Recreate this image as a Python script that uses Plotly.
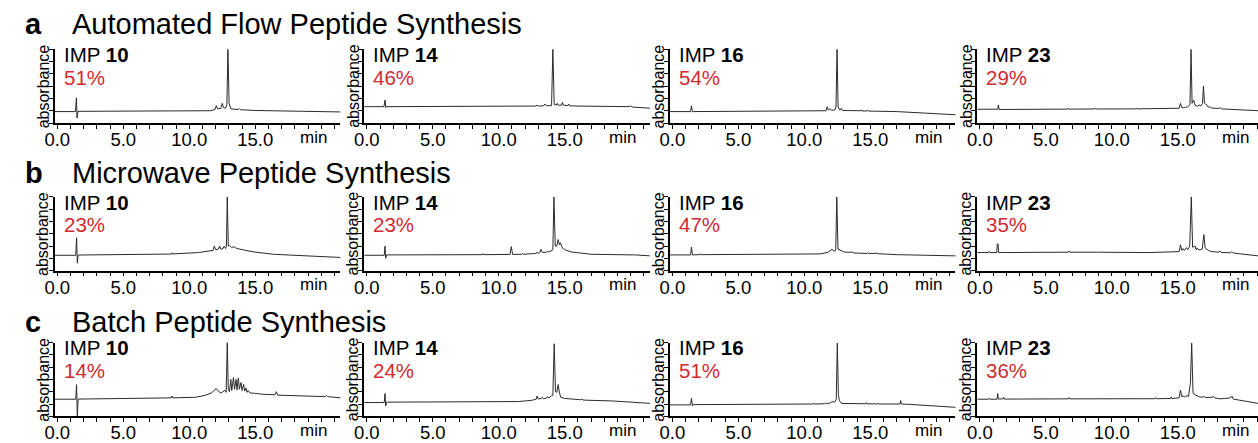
import plotly.graph_objects as go

W, H = 1258, 443

# ---- data -------------------------------------------------------------
methods = ["Automated Flow Peptide Synthesis", "Microwave Peptide Synthesis", "Batch Peptide Synthesis"]
method_letters = ["a", "b", "c"]
compounds = ["10", "14", "16", "23"]
yields = [[51, 46, 54, 29],
          [23, 23, 47, 35],
          [14, 24, 51, 36]]

# chromatograms: (retention time in min, absorbance in arbitrary units)
flow_10 = [(-0.2, 0.93), (1.38, 0.93), (1.45, 2.05), (1.5, 0.4), (1.56, 0.95), (8, 0.95), (11.6, 1.0),
           (11.95, 1.1), (12.05, 1.41), (12.15, 1.15), (12.4, 1.2), (12.5, 1.6), (12.6, 1.25), (12.75, 1.2),
           (12.85, 1.5), (12.93, 6.0), (13.02, 1.6), (13.15, 1.15), (13.7, 1.1), (13.8, 1.18), (13.9, 1.08),
           (15, 1.02), (17, 0.98), (21.5, 0.9)]
flow_14 = [(-0.2, 1.33), (1.3, 1.33), (1.38, 1.87), (1.44, 1.25), (1.5, 1.33), (9, 1.35), (12.8, 1.38),
           (12.9, 1.45), (13.0, 1.38), (13.4, 1.4), (13.5, 1.55), (13.6, 1.4), (14.0, 1.42), (14.1, 6.0),
           (14.2, 1.5), (14.35, 1.45), (14.42, 1.6), (14.5, 1.45), (14.75, 1.45), (14.82, 1.68), (14.9, 1.45),
           (15.25, 1.42), (15.3, 1.55), (15.38, 1.4), (16, 1.38), (19.9, 1.33), (20.0, 1.4), (20.1, 1.3),
           (21.5, 1.2)]
flow_16 = [(-0.2, 0.93), (1.38, 0.93), (1.45, 1.39), (1.52, 0.9), (1.6, 0.93), (8, 0.95), (11.0, 0.98),
           (11.65, 1.0), (11.73, 1.33), (11.82, 1.05), (11.95, 1.15), (12.05, 1.05), (12.3, 1.05), (12.4, 1.3),
           (12.48, 6.0), (12.56, 1.3), (12.7, 1.05), (12.8, 1.2), (12.9, 1.02), (14.25, 1.0), (14.3, 1.07),
           (14.35, 0.98), (14.75, 0.98), (14.8, 1.05), (14.85, 0.97), (17, 0.93), (21.5, 0.67)]
flow_23 = [(-0.2, 1.12), (1.35, 1.12), (1.4, 1.47), (1.46, 1.1), (6.65, 1.13), (6.7, 1.22), (6.75, 1.13),
           (8.65, 1.14), (8.7, 1.22), (8.75, 1.14), (11.85, 1.15), (11.9, 1.22), (11.95, 1.15), (14.5, 1.17),
           (15.1, 1.2), (15.2, 1.6), (15.3, 1.25), (15.55, 1.25), (15.6, 1.32), (15.7, 1.27), (15.8, 1.38),
           (15.92, 1.5), (16.0, 6.0), (16.08, 1.6), (16.2, 1.87), (16.3, 1.45), (16.5, 1.35), (16.6, 1.47),
           (16.75, 1.4), (16.87, 1.6), (16.94, 3.0), (17.02, 1.6), (17.2, 1.47), (17.3, 1.3), (17.45, 1.3),
           (17.55, 1.22), (18.1, 1.18), (18.2, 1.25), (18.3, 1.15), (19, 1.12), (21.5, 0.98)]

mw_10 = [(-0.2, 1.25), (1.4, 1.25), (1.46, 2.67), (1.52, 0.61), (1.58, 1.27), (5, 1.3), (8.65, 1.35),
         (8.7, 1.45), (8.75, 1.36), (10.7, 1.47), (11.5, 1.58), (11.8, 1.65), (11.9, 2.0), (12.0, 1.7),
         (12.2, 1.75), (12.3, 2.0), (12.4, 1.75), (12.55, 1.78), (12.65, 2.0), (12.75, 1.8), (12.82, 2.0),
         (12.88, 6.0), (12.96, 2.0), (13.05, 2.05), (13.2, 1.9), (13.4, 1.93), (13.6, 1.8), (14.9, 1.52),
         (16.4, 1.33), (21.5, 1.07)]
mw_14 = [(-0.2, 1.25), (1.32, 1.25), (1.38, 2.0), (1.43, 1.01), (1.5, 1.28), (8.75, 1.3), (8.8, 1.39),
         (8.85, 1.3), (10.85, 1.32), (10.95, 1.95), (11.05, 1.32), (11.75, 1.33), (11.8, 1.4), (11.85, 1.33),
         (12.8, 1.4), (12.9, 1.47), (13.0, 1.42), (13.1, 1.45), (13.2, 1.73), (13.3, 1.48), (13.6, 1.5),
         (13.7, 1.55), (13.8, 1.52), (14.0, 1.68), (14.1, 1.7), (14.18, 6.0), (14.28, 2.0), (14.4, 2.0),
         (14.5, 2.53), (14.6, 2.1), (14.67, 2.27), (14.8, 1.87), (15.0, 1.7), (15.5, 1.52), (17, 1.33),
         (20.3, 1.28), (21.5, 1.2)]
mw_16 = [(-0.2, 1.28), (1.38, 1.28), (1.45, 1.92), (1.52, 1.28), (2.05, 1.3), (2.1, 1.38), (2.15, 1.3),
         (8, 1.32), (11.2, 1.36), (11.8, 1.5), (12.1, 1.73), (12.25, 1.58), (12.38, 1.65), (12.46, 6.0),
         (12.55, 1.75), (12.7, 1.68), (12.8, 1.6), (12.9, 1.57), (13.1, 1.5), (13.65, 1.45), (13.7, 1.5),
         (13.75, 1.43), (14.75, 1.4), (14.8, 1.47), (14.85, 1.4), (15.4, 1.4), (15.45, 1.47), (15.5, 1.38),
         (17, 1.3), (21.5, 1.2)]
mw_23 = [(-0.2, 1.47), (0.65, 1.47), (0.7, 1.57), (0.75, 1.47), (1.28, 1.47), (1.32, 2.19), (1.38, 2.15),
         (1.42, 1.47), (6.7, 1.5), (6.75, 1.6), (6.8, 1.5), (8.75, 1.5), (8.8, 1.55), (8.85, 1.5), (12.9, 1.47),
         (14.35, 1.5), (14.4, 1.55), (14.45, 1.5), (15.1, 1.55), (15.2, 2.1), (15.3, 1.65), (15.4, 1.79),
         (15.5, 1.65), (15.65, 1.87), (15.75, 1.7), (15.9, 2.0), (16.02, 6.0), (16.12, 1.9), (16.3, 2.0),
         (16.4, 1.7), (16.45, 1.85), (16.6, 1.68), (16.85, 1.75), (16.97, 2.93), (17.07, 1.85), (17.2, 1.73),
         (17.4, 1.6), (17.6, 1.55), (18.1, 1.5), (18.2, 1.6), (18.3, 1.48), (19.0, 1.45), (19.1, 1.55),
         (19.2, 1.43), (21.1, 1.2)]

batch_10 = [(-0.2, 1.39), (1.4, 1.39), (1.46, 2.58), (1.52, 0.0), (1.58, 1.4), (5, 1.42), (8.65, 1.5),
            (8.7, 1.65), (8.75, 1.5), (10.5, 1.55), (11.2, 1.7), (11.7, 1.92), (12.05, 2.25), (12.25, 2.0),
            (12.4, 1.9), (12.55, 2.0), (12.7, 2.12), (12.8, 1.95), (12.88, 6.0), (12.96, 2.2), (13.05, 2.0),
            (13.15, 3.0), (13.22, 2.1), (13.35, 3.15), (13.43, 2.2), (13.55, 3.0), (13.62, 2.15), (13.72, 3.1),
            (13.8, 2.2), (13.92, 2.75), (14.0, 2.1), (14.12, 2.6), (14.2, 2.05), (14.3, 2.3), (14.38, 1.95),
            (14.47, 2.1), (14.6, 1.9), (14.95, 1.87), (15.5, 1.8), (16.5, 1.75), (16.6, 2.0), (16.7, 1.72),
            (18, 1.68), (20.3, 1.6), (20.4, 1.7), (20.5, 1.6), (21.5, 1.5)]
batch_14 = [(-0.2, 1.12), (1.32, 1.12), (1.38, 1.85), (1.43, 0.85), (1.5, 1.15), (9, 1.15), (11.5, 1.2),
            (12.5, 1.3), (12.85, 1.4), (12.9, 1.65), (13.0, 1.4), (13.2, 1.45), (13.3, 1.55), (13.4, 1.42),
            (13.65, 1.5), (13.7, 1.6), (13.8, 1.5), (14.0, 1.68), (14.1, 1.7), (14.2, 5.9), (14.3, 2.0),
            (14.4, 1.95), (14.5, 2.58), (14.6, 1.9), (14.7, 1.55), (15.0, 1.45), (15.5, 1.4), (15.6, 1.45),
            (16.2, 1.35), (16.3, 1.4), (16.4, 1.32), (18.6, 1.25), (21.5, 1.05)]
batch_16 = [(-0.2, 0.93), (1.38, 0.93), (1.45, 1.47), (1.52, 0.85), (1.58, 0.95), (8.75, 0.97), (8.8, 1.03),
            (8.85, 0.97), (10.65, 1.0), (10.7, 1.07), (10.75, 1.0), (11.55, 1.02), (11.6, 1.07), (11.65, 1.02),
            (12.0, 1.1), (12.1, 1.2), (12.3, 1.15), (12.42, 1.4), (12.5, 5.95), (12.58, 1.79), (12.65, 1.3),
            (12.8, 1.05), (13.5, 1.02), (14.65, 1.02), (14.7, 1.12), (14.75, 1.02), (15.55, 1.0), (15.6, 1.07),
            (15.65, 1.0), (17.25, 1.0), (17.3, 1.28), (17.35, 1.0), (18, 0.97), (21.5, 0.73)]
batch_23 = [(-0.2, 1.39), (0.65, 1.39), (0.7, 1.47), (0.75, 1.39), (1.3, 1.39), (1.35, 1.85), (1.4, 1.4),
            (1.75, 1.42), (1.8, 1.55), (1.85, 1.4), (6.7, 1.42), (6.75, 1.52), (6.8, 1.42), (8.75, 1.42),
            (8.8, 1.47), (8.85, 1.42), (13.25, 1.43), (13.3, 1.52), (13.35, 1.43), (14.45, 1.45), (14.5, 1.58),
            (14.55, 1.45), (15.1, 1.5), (15.2, 2.12), (15.3, 1.6), (15.4, 1.65), (15.5, 1.58), (15.7, 1.68),
            (15.8, 1.6), (15.95, 2.65), (16.05, 5.95), (16.15, 1.9), (16.3, 1.75), (16.6, 1.6), (16.8, 1.55),
            (17.0, 1.6), (17.1, 1.52), (17.6, 1.55), (17.7, 1.62), (17.8, 1.5), (18.2, 1.42), (19.0, 1.5),
            (19.1, 1.65), (19.2, 1.4), (19.7, 1.3), (21.1, 1.05)]

chromatograms = [[flow_10, flow_14, flow_16, flow_23],
                 [mw_10, mw_14, mw_16, mw_23],
                 [batch_10, batch_14, batch_16, batch_23]]

x_tick_vals = list(range(0, 22))
x_tick_labels = {0: "0.0", 5: "5.0", 10: "10.0", 15: "15.0"}
x_unit = "min"
y_tick_vals = list(range(0, 7))

# ---- layout geometry (pixels) ----------------------------------------
FONT = "Liberation Sans, Arial, Helvetica, sans-serif"
RED = "#d12a2f"
LINE = "#2b2b2b"
col_left = [45, 357, 665, 975]
panel_w = 288
row_top = [50, 200, 348]
row_bot = [125, 275, 423]
title_mid = [24.5, 175.5, 327.5]
px_per_min = panel_w / 21.65
t_start = -0.2


def fx(px):
    return px / W


def fy(py):
    return 1 - py / H


fig = go.Figure()
layout = dict(
    width=W, height=H, margin=dict(l=0, r=0, t=0, b=0),
    paper_bgcolor="white", plot_bgcolor="white", showlegend=False,
    font=dict(family=FONT, color="black"),
)
annotations = []

for r in range(3):
    annotations.append(dict(text="<b>%s</b>" % method_letters[r], x=fx(13), y=fy(title_mid[r]),
                            xref="paper", yref="paper", xanchor="left", yanchor="middle",
                            showarrow=False, font=dict(size=29, family=FONT, color="black")))
    annotations.append(dict(text=methods[r], x=fx(60), y=fy(title_mid[r]),
                            xref="paper", yref="paper", xanchor="left", yanchor="middle",
                            showarrow=False, font=dict(size=29, family=FONT, color="black")))
    for c in range(4):
        i = r * 4 + c + 1
        xs = "" if i == 1 else str(i)
        left = col_left[c]
        right = min(left + panel_w, W)
        t_end = t_start + (right - left) / px_per_min
        pts = chromatograms[r][c]
        fig.add_trace(go.Scatter(x=[p[0] for p in pts], y=[p[1] for p in pts], mode="lines",
                                 line=dict(color=LINE, width=1), xaxis="x" + xs, yaxis="y" + xs,
                                 hoverinfo="skip"))
        layout["xaxis" + xs] = dict(
            domain=[fx(left), fx(right)], range=[t_start, t_end], anchor="y" + xs,
            showgrid=False, zeroline=False, showline=True, linecolor="black", linewidth=1.5,
            ticks="outside", ticklen=4, tickwidth=1, tickcolor="black", ticklabelstandoff=-5,
            tickvals=x_tick_vals, ticktext=[x_tick_labels.get(v, "") for v in x_tick_vals],
            tickfont=dict(size=18.5, family=FONT, color="black"), fixedrange=True,
        )
        layout["yaxis" + xs] = dict(
            domain=[fy(row_bot[r]), fy(row_top[r])], range=[0, 6], anchor="x" + xs,
            showgrid=False, zeroline=False, showline=True, linecolor="black", linewidth=1.5,
            ticks="outside", ticklen=4, tickwidth=1, tickcolor="black",
            tickvals=y_tick_vals, showticklabels=False, fixedrange=True,
        )
        annotations.append(dict(text="IMP <b>%s</b>" % compounds[c], x=fx(left + 7), y=fy(row_top[r] + 5.5),
                                xref="paper", yref="paper", xanchor="left", yanchor="middle",
                                showarrow=False, font=dict(size=20.5, family=FONT, color="black")))
        annotations.append(dict(text="%d%%" % yields[r][c], x=fx(left + 7), y=fy(row_top[r] + 28.5),
                                xref="paper", yref="paper", xanchor="left", yanchor="middle",
                                showarrow=False, font=dict(size=20.5, family=FONT, color=RED)))
        annotations.append(dict(text="absorbance", textangle=-90, x=fx(left - 11.5),
                                y=fy((row_top[r] + row_bot[r]) / 2),
                                xref="paper", yref="paper", xanchor="center", yanchor="middle",
                                showarrow=False, font=dict(size=16, family=FONT, color="black")))
        annotations.append(dict(text=x_unit, x=19.4, y=fy(row_bot[r] + 14.5),
                                xref="x" + xs, yref="paper", xanchor="center", yanchor="middle",
                                showarrow=False, font=dict(size=17, family=FONT, color="black")))

layout["annotations"] = annotations
fig.update_layout(**layout)
fig.write_html("out.html")
